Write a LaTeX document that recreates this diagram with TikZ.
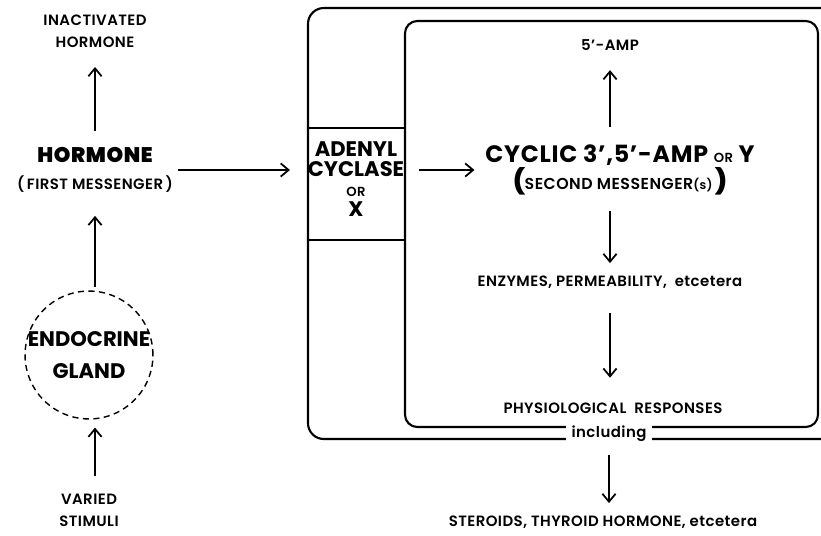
\documentclass[tikz,border=0pt]{standalone}
\usepackage{fontspec}
\setmainfont{Poppins}
\IfFontExistsTF{Poppins SemiBold}{\newfontfamily\medf{Poppins SemiBold}[LetterSpace=3]}{\newfontfamily\medf{Poppins}[FakeBold=1,LetterSpace=3]}
\usetikzlibrary{arrows.meta}

\newcommand{\bigf}{\bfseries\fontsize{12}{13}\selectfont}
\newcommand{\smf}{\mdseries\medf\fontsize{8.5}{12.5}\selectfont}
\newcommand{\orf}{\mdseries\medf\fontsize{7.5}{8}\selectfont}

\tikzset{
  frame/.style={line width=1.2pt},
  arr/.style={-{Straight Barb[length=4.5pt,width=7.5pt]}, line width=1pt},
  sml/.style={font=\smf, align=center, inner sep=2pt},
  bigl/.style={font=\bigf, align=center, inner sep=2pt},
}

\begin{document}
\begin{tikzpicture}[x=0.02cm, y=-0.02cm]
\clip (0,0) rectangle (821,535);

% Frames (cell and inner compartment)
\draw [frame, rounded corners=9pt] (308,8) rectangle (870,439);
\draw [frame, rounded corners=7pt, fill=white] (405,21) rectangle (818,427);
\draw [frame] (308,128) -- (405,128) (308,240) -- (405,240);
\node [font=\smf, fill=white, inner xsep=3pt, inner ysep=4pt] (incl) at (609,434) {including};

% Left column
\node [sml] (inact) at (95,31) {INACTIVATED\\HORMONE};
\node [sml] (horm) at (95,170) {{\bigf HORMONE}\\[3pt](\,FIRST MESSENGER\,)};
\node [bigl, circle, draw, dashed, dash pattern=on 3.5pt off 2.5pt,
    line width=0.8pt, minimum size=72.8pt, inner sep=-6pt,
    font=\bfseries\fontsize{12}{18}\selectfont] (gland) at (89,355)
    {ENDOCRINE\\GLAND};
\node [sml] (stim) at (89,510) {VARIED\\STIMULI};

% Right column
\node [bigl, font=\bfseries\fontsize{12}{11.4}\selectfont] (adenyl) at (356,179)
    {ADENYL\\CYCLASE\\{\orf OR}\\X};
\node [bigl, font=\bfseries\fontsize{13.5}{14}\selectfont\addfontfeature{LetterSpace=3}] (cyc) at (620,170)
    {CYCLIC 3’,5’-AMP {\orf OR} Y\\[0pt]{\mdseries\medf\fontsize{9}{10}\selectfont{\bfseries\fontsize{14}{14}\selectfont(}SECOND MESSENGER{\fontsize{7}{7}\selectfont(s)}\,{\bfseries\fontsize{14}{14}\selectfont)}}};
\node [sml] (amp5) at (610,45) {5’-AMP};
\node [sml] (enz) at (610,282) {ENZYMES, PERMEABILITY,\ \ etcetera};
\node [sml] (phys) at (613,408) {PHYSIOLOGICAL\ \ RESPONSES};
\node [sml] (ster) at (603,522) {STEROIDS, THYROID HORMONE, etcetera};

% Connectors
\draw [arr, shorten <=8pt, shorten >=4.5pt] (stim.north -| horm) -- (gland.south -| horm);
\draw [arr, shorten <=2pt, shorten >=11pt] (gland.north -| horm) -- (horm.south);
\draw [arr, shorten <=7pt, shorten >=9pt] (horm.north) -- (inact.south);
\draw [arr, shorten <=1pt, shorten >=8pt] (horm.east) -- (horm.east -| adenyl.west);
\draw [arr, shorten <=6pt, shorten >=4pt] (adenyl.east |- cyc) -- (cyc.west);
\draw [arr, shorten <=8pt, shorten >=9pt] (cyc.north -| amp5) -- (amp5.south);
\draw [arr, shorten <=7pt, shorten >=5pt] (cyc.south -| enz) -- (enz.north);
\draw [arr, shorten <=12pt, shorten >=12pt] (enz.south) -- (enz.south |- phys.north);
\draw [arr, shorten <=3pt, shorten >=5pt] (incl.south) -- (incl.south |- ster.north);

\end{tikzpicture}
\end{document}
